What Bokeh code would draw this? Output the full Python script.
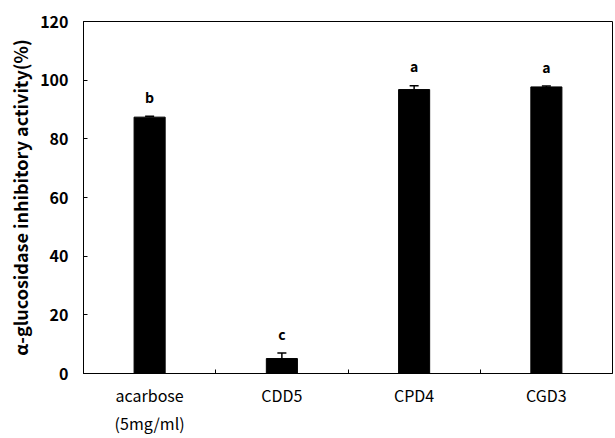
from bokeh.plotting import figure
from bokeh.models import ColumnDataSource, Whisker, TeeHead, FixedTicker, Range1d
from bokeh.core.properties import value
from bokeh.embed import file_html
from bokeh.resources import INLINE

categories = ["acarbose\n(5mg/ml)", "CDD5", "CPD4", "CGD3"]
inhibition = [87.4, 5.1, 96.8, 97.7]
errors = [0.3, 1.9, 1.3, 0.3]
letters = ["b", "c", "a", "a"]
y_ticks = [0, 20, 40, 60, 80, 100, 120]

FONT = "Noto Sans CJK KR"

xs = [i + 0.5 for i in range(len(categories))]
uppers = [v + e for v, e in zip(inhibition, errors)]
src = ColumnDataSource(dict(x=xs, top=inhibition, upper=uppers,
                            lab=letters, ly=[u + 3.2 for u in uppers]))

p = figure(width=615, height=438, output_backend="svg", toolbar_location=None,
           x_range=Range1d(0, len(categories)), y_range=Range1d(0, 120),
           min_border_left=83, min_border_right=3, min_border_top=21,
           min_border_bottom=64)
p.background_fill_color = "white"
p.border_fill_color = "white"
p.outline_line_color = "black"
p.outline_line_width = 1
p.xgrid.visible = False
p.ygrid.visible = False

p.vbar(x="x", top="top", width=0.235, bottom=0, source=src,
       fill_color="black", line_color="black")
w = Whisker(base="x", lower="top", upper="upper", source=src,
            line_color="black", line_width=1.5,
            upper_head=TeeHead(size=9, line_color="black", line_width=1.5),
            lower_head=None)
p.add_layout(w)
p.text(x="x", y="ly", text="lab", source=src, text_align="center",
       text_baseline="bottom", text_font=value(FONT), text_font_size="14px",
       text_font_style="bold", text_color="black")

# x axis
p.xaxis.ticker = FixedTicker(ticks=xs, minor_ticks=[1, 2, 3])
p.xaxis.major_label_overrides = {x: c for x, c in zip(xs, categories)}
p.xaxis.major_tick_in = 0
p.xaxis.major_tick_out = 0
p.xaxis.minor_tick_in = 4
p.xaxis.minor_tick_out = 0
p.xaxis.major_label_text_font = FONT
p.xaxis.major_label_text_font_size = "16px"
p.xaxis.major_label_text_color = "black"
p.xaxis.major_label_standoff = 9
p.xaxis.axis_line_color = "black"

# y axis
p.yaxis.ticker = FixedTicker(ticks=y_ticks, minor_ticks=[])
p.yaxis.major_tick_in = 4
p.yaxis.major_tick_out = 0
p.yaxis.major_label_text_font = FONT
p.yaxis.major_label_text_font_size = "16px"
p.yaxis.major_label_text_font_style = "bold"
p.yaxis.major_label_text_color = "black"
p.yaxis.major_label_standoff = 15
p.yaxis.axis_label = "α-glucosidase inhibitory activity(%)"
p.yaxis.axis_label_text_font = FONT
p.yaxis.axis_label_text_font_size = "18px"
p.yaxis.axis_label_text_font_style = "bold"
p.yaxis.axis_label_text_color = "black"
p.yaxis.axis_label_standoff = 4
p.yaxis.axis_line_color = "black"

open("out.html", "w").write(file_html(p, INLINE))
